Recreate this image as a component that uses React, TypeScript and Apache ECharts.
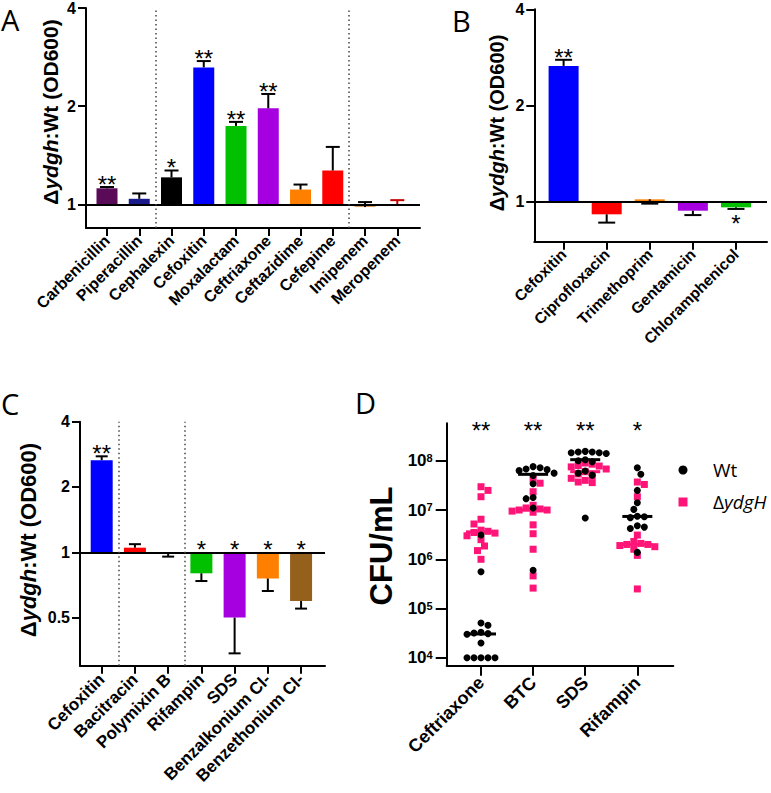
import React, { useEffect, useRef } from 'react';
import * as echarts from 'echarts';

// ---------- Panel A ----------
const catsA = ['Carbenicillin', 'Piperacillin', 'Cephalexin', 'Cefoxitin', 'Moxalactam', 'Ceftriaxone', 'Ceftazidime', 'Cefepime', 'Imipenem', 'Meropenem'];
const valsA = [1.12, 1.04, 1.21, 2.63, 1.74, 1.97, 1.11, 1.27, 0.981, 0.99];
const errA = [1.13, 1.08, 1.27, 2.75, 1.79, 2.18, 1.15, 1.5, 1.016, 1.03];
const sigA = ['**', '', '*', '**', '**', '**', '', '', '', ''];
const colorsA = ['#5a0b58', '#1a1a8c', '#000000', '#0000ff', '#00c000', '#a600e0', '#ff8000', '#ff0000', '#d9a062', '#ff0000'];
const errColorsA = ['#000', '#000', '#000', '#000', '#000', '#000', '#000', '#000', '#000', '#c00000'];

// ---------- Panel B ----------
const catsB = ['Cefoxitin', 'Ciprofloxacin', 'Trimethoprim', 'Gentamicin', 'Chloramphenicol'];
const valsB = [2.66, 0.913, 1.017, 0.937, 0.96];
const errB = [2.78, 0.86, 0.986, 0.908, 0.949];
const sigB = ['**', '', '', '', '*'];
const colorsB = ['#0000ff', '#ff0000', '#ff8000', '#a600e0', '#00c000'];
const errColorsB = ['#000', '#000', '#000', '#000', '#000'];

// ---------- Panel C ----------
const catsC = ['Cefoxitin', 'Bacitracin', 'Polymixin B', 'Rifampin', 'SDS', 'Benzalkonium Cl-', 'Benzethonium Cl-'];
const valsC = [2.66, 1.05, 0.985, 0.8, 0.5, 0.757, 0.596];
const errC = [2.77, 1.09, 0.955, 0.737, 0.342, 0.663, 0.55];
const sigC = ['**', '', '', '*', '*', '*', '*'];
const colorsC = ['#0000ff', '#ff0000', '#000000', '#00c000', '#a600e0', '#ff8000', '#94601c'];
const errColorsC = ['#000', '#000', '#000', '#000', '#000', '#000', '#000'];

// ---------- Panel D (CFU/mL) ----------
const catsD = ['Ceftriaxone', 'BTC', 'SDS', 'Rifampin'];
const sigD = ['**', '**', '**', '*'];
const wtCeftriaxone = [3.1e6, 5.6e5, 5.1e4, 4.6e4, 3.3e4, 3.2e4, 3.1e4, 3.0e4, 2.0e4, 1e4, 1e4, 1e4, 1e4, 1e4];
const wtBTC = [7.6e7, 7.2e7, 6.8e7, 6.6e7, 6.3e7, 5.6e7, 5.0e7, 3.4e7, 1.8e7, 1.7e7, 1.1e7, 6.0e5];
const wtSDS = [1.55e8, 1.5e8, 1.5e8, 1.45e8, 1.45e8, 1.4e8, 1.05e8, 1.0e8, 9.5e7, 6.2e7, 5.6e7, 5.1e7, 6.9e6];
const wtRifampin = [7.2e7, 5.3e7, 2.5e7, 1.4e7, 1.03e7, 7.5e6, 7.3e6, 7.0e6, 4.8e6, 4.5e6, 4.2e6, 1.38e6];
const koCeftriaxone = [2.97e7, 2.5e7, 1.86e7, 6.5e6, 5.2e6, 3.9e6, 3.7e6, 3.5e6, 3.4e6, 3.0e6, 2.5e6, 1.86e6, 1.5e6, 1.0e6];
const koBTC = [4.2e7, 3.5e7, 2.35e7, 1.25e7, 1.1e7, 1.05e7, 1.0e7, 1.0e7, 9.5e6, 9.0e6, 5.0e6, 3.3e6, 1.6e6, 4.6e5, 2.6e5];
const koSDS = [9.0e7, 8.5e7, 8.0e7, 7.8e7, 7.5e7, 6.8e7, 6.0e7, 5.4e7, 5.0e7, 4.4e7, 4.0e7, 3.7e7, 3.6e7];
const koRifampin = [3.7e7, 3.3e7, 1.86e7, 3.1e6, 2.3e6, 2.1e6, 2.0e6, 2.0e6, 1.9e6, 1.8e6, 1.6e6, 1.2e6, 2.5e5];
const wtD = [wtCeftriaxone, wtBTC, wtSDS, wtRifampin];
const koD = [koCeftriaxone, koBTC, koSDS, koRifampin];
const yTicksD = [4, 5, 6, 7, 8];

const FONT_B = "'Liberation Sans', Arial, Helvetica, sans-serif";
const FONT_L = "'Open Sans', 'Noto Sans', sans-serif";
const PINK = '#ff1478';

function median(a: number[]) {
  const s = [...a].sort((x, y) => x - y);
  const n = s.length;
  return n % 2 ? s[(n - 1) / 2] : (s[n / 2 - 1] + s[n / 2]) / 2;
}

function swarmOffsets(vals: number[], pxPerDec: number, step: number): number[] {
  const order = vals.map((_, i) => i).sort((a, b) => vals[b] - vals[a]);
  const placed: [number, number][] = [];
  const offs = new Array(vals.length).fill(0);
  let flip = 1;
  for (const i of order) {
    const y = Math.log10(vals[i]) * pxPerDec;
    let chosen = 0;
    for (let k = 0; k < 80; k++) {
      const m = Math.ceil(k / 2) * (step / 2);
      const cand = k === 0 ? 0 : k % 2 === 1 ? m * flip : -m * flip;
      if (placed.every(([px, py]) => Math.hypot(px - cand, py - y) >= step * 0.98)) {
        chosen = cand;
        break;
      }
    }
    if (chosen !== 0) flip = -flip;
    placed.push([chosen, y]);
    offs[i] = chosen;
  }
  return offs;
}

type BarPanel = {
  cats: string[]; vals: number[]; errs: number[]; sigs: string[]; colors: string[]; errColors: string[];
  grid: { left: number; top: number; width: number; height: number };
  xMin: number; xMax: number; yMin: number; yMax: number; yTicks: number[];
  barWidth: number; cap: number; seps: number[]; labelSize: number; labelMargin: number; negStarBelow: boolean;
};

const barPanels: BarPanel[] = [
  {
    cats: catsA, vals: valsA, errs: errA, sigs: sigA, colors: colorsA, errColors: errColorsA,
    grid: { left: 86, top: 5, width: 334, height: 223 },
    xMin: -0.651, xMax: 9.704, yMin: -0.241, yMax: 2, yTicks: [0, 1, 2],
    barWidth: 21, cap: 7, seps: [1.5, 7.5], labelSize: 16, labelMargin: 10, negStarBelow: false,
  },
  {
    cats: catsB, vals: valsB, errs: errB, sigs: sigB, colors: colorsB, errColors: errColorsB,
    grid: { left: 534.3, top: 9.3, width: 232.7, height: 232.4 },
    xMin: -0.68, xMax: 4.72, yMin: -0.416, yMax: 2, yTicks: [0, 1, 2],
    barWidth: 30, cap: 8.5, seps: [], labelSize: 15.5, labelMargin: 10, negStarBelow: true,
  },
  {
    cats: catsC, vals: valsC, errs: errC, sigs: sigC, colors: colorsC, errColors: errColorsC,
    grid: { left: 80, top: 421.7, width: 245, height: 244 },
    xMin: -0.653, xMax: 6.72, yMin: -1.737, yMax: 2, yTicks: [-1, 0, 1, 2],
    barWidth: 22, cap: 6, seps: [0.5, 2.5], labelSize: 17, labelMargin: 11, negStarBelow: false,
  },
];

const gridD = { left: 446.7, top: 423.3, width: 226.6, height: 242.4 };
const xMinD = -0.658, xMaxD = 3.69, yMinD = 3.84, yMaxD = 8.76;

const STAR_FS = 24;

function buildOption(): any {
  const grids: any[] = [];
  const xAxes: any[] = [];
  const yAxes: any[] = [];
  const series: any[] = [];
  const axisLine = { show: true, onZero: false, lineStyle: { color: '#000', width: 2 } };

  barPanels.forEach((p, gi) => {
    grids.push({ ...p.grid });
    const idx = p.cats.map((_, k) => k);
    xAxes.push({
      type: 'value', gridIndex: gi, min: p.xMin, max: p.xMax,
      axisLine, splitLine: { show: false },
      axisTick: { show: true, customValues: idx, length: 8, lineStyle: { color: '#000', width: 2 } },
      axisLabel: {
        show: true, customValues: idx, rotate: 45, margin: p.labelMargin,
        formatter: (v: number) => p.cats[Math.round(v)] ?? '',
        fontSize: p.labelSize, fontWeight: 'bold', fontFamily: FONT_B, color: '#000',
      },
    });
    yAxes.push({
      type: 'value', gridIndex: gi, min: p.yMin, max: p.yMax,
      axisLine, splitLine: { show: false },
      axisTick: { show: true, customValues: p.yTicks, length: 8, lineStyle: { color: '#000', width: 2 } },
      axisLabel: {
        show: true, customValues: p.yTicks, margin: 10,
        formatter: (v: number) => String(Math.round(Math.pow(2, v) * 100) / 100),
        fontSize: 16, fontWeight: 'bold', fontFamily: FONT_B, color: '#000',
      },
    });
    series.push({
      type: 'bar', xAxisIndex: gi, yAxisIndex: gi, barWidth: p.barWidth,
      data: p.vals.map((v, i) => ({ value: [i, Math.log2(v)], itemStyle: { color: p.colors[i] } })),
      markLine: {
        silent: true, symbol: 'none', label: { show: false },
        data: [
          { yAxis: 0, lineStyle: { color: '#000', width: 2, type: 'solid' } },
          ...p.seps.map((s) => ({ xAxis: s, lineStyle: { color: '#444', width: 1.5, type: [1.5, 3] } })),
        ],
      },
    });
    series.push({
      type: 'custom', xAxisIndex: gi, yAxisIndex: gi, z: 3,
      data: p.vals.map((v, i) => [i, Math.log2(v), Math.log2(p.errs[i])]),
      renderItem: (params: any, api: any) => {
        const x = api.value(0);
        const p0 = api.coord([x, api.value(1)]);
        const p1 = api.coord([x, api.value(2)]);
        const c = p.errColors[params.dataIndex];
        return {
          type: 'group',
          children: [
            { type: 'line', shape: { x1: p0[0], y1: p0[1], x2: p1[0], y2: p1[1] }, style: { stroke: c, lineWidth: 2 } },
            { type: 'line', shape: { x1: p1[0] - p.cap, y1: p1[1], x2: p1[0] + p.cap, y2: p1[1] }, style: { stroke: c, lineWidth: 2 } },
          ],
        };
      },
    });
    const stars: { x: number; y: number; below: boolean; text: string }[] = [];
    p.sigs.forEach((s, i) => {
      if (!s) return;
      const lv = Math.log2(p.vals[i]);
      const le = Math.log2(p.errs[i]);
      if (lv < 0 && p.negStarBelow) stars.push({ x: i, y: Math.min(lv, le), below: true, text: s });
      else stars.push({ x: i, y: Math.max(0, lv, le), below: false, text: s });
    });
    series.push({
      type: 'custom', xAxisIndex: gi, yAxisIndex: gi, z: 4,
      data: stars.map((s) => [s.x, s.y]),
      renderItem: (params: any, api: any) => {
        const st = stars[params.dataIndex];
        const pt = api.coord([api.value(0), api.value(1)]);
        const cy = st.below ? pt[1] + 9 : pt[1] - 8;
        return {
          type: 'text', x: pt[0], y: cy + 0.22 * STAR_FS,
          style: { text: st.text, fontSize: STAR_FS, fontFamily: FONT_B, fill: '#000', align: 'center', verticalAlign: 'middle' },
        };
      },
    });
  });

  // Panel D
  const gd = 3;
  grids.push({ ...gridD });
  const idxD = catsD.map((_, k) => k);
  xAxes.push({
    type: 'value', gridIndex: gd, min: xMinD, max: xMaxD, axisLine, splitLine: { show: false },
    axisTick: { show: true, customValues: idxD, length: 10, lineStyle: { color: '#000', width: 2 } },
    axisLabel: {
      show: true, customValues: idxD, rotate: 45, margin: 14,
      formatter: (v: number) => catsD[Math.round(v)] ?? '',
      fontSize: 18, fontWeight: 'bold', fontFamily: FONT_B, color: '#000',
    },
  });
  yAxes.push({
    type: 'value', gridIndex: gd, min: yMinD, max: yMaxD, axisLine, splitLine: { show: false },
    axisTick: { show: true, customValues: yTicksD, length: 11, lineStyle: { color: '#000', width: 2 } },
    axisLabel: {
      show: true, customValues: yTicksD, margin: 14,
      formatter: (v: number) => `{b|10}{s|${Math.round(v)}}`,
      rich: {
        b: { fontSize: 17, fontWeight: 'bold', fontFamily: FONT_B, color: '#000' },
        s: { fontSize: 11, fontWeight: 'bold', fontFamily: FONT_B, color: '#000', verticalAlign: 'top' },
      },
    },
  });
  const pxPerDec = gridD.height / (yMaxD - yMinD);
  const pxPerCat = gridD.width / (xMaxD - xMinD);
  const step = 7;
  const pts = (groups: number[][]) =>
    groups.flatMap((g, c) => {
      const offs = swarmOffsets(g, pxPerDec, step);
      return g.map((v, i) => [c + offs[i] / pxPerCat, Math.log10(v)]);
    });
  const medRender = (color: string) => (params: any, api: any) => {
    const pt = api.coord([api.value(0), api.value(1)]);
    return { type: 'line', shape: { x1: pt[0] - 15, y1: pt[1], x2: pt[0] + 15, y2: pt[1] }, style: { stroke: color, lineWidth: 3 } };
  };
  series.push({
    type: 'scatter', name: 'ΔydgH', xAxisIndex: gd, yAxisIndex: gd, symbol: 'rect', symbolSize: 7,
    itemStyle: { color: PINK, opacity: 1 }, data: pts(koD),
  });
  series.push({
    type: 'custom', xAxisIndex: gd, yAxisIndex: gd, data: koD.map((g, c) => [c, Math.log10(median(g))]),
    renderItem: medRender(PINK),
  });
  series.push({
    type: 'scatter', name: 'Wt', xAxisIndex: gd, yAxisIndex: gd, symbol: 'circle', symbolSize: 7,
    itemStyle: { color: '#000', opacity: 1 }, data: pts(wtD),
  });
  series.push({
    type: 'custom', xAxisIndex: gd, yAxisIndex: gd, data: wtD.map((g, c) => [c, Math.log10(median(g))]),
    renderItem: medRender('#000'),
  });
  series.push({
    type: 'custom', xAxisIndex: gd, yAxisIndex: gd, z: 4,
    data: sigD.map((_, c) => [c, 8.72]),
    renderItem: (params: any, api: any) => {
      const pt = api.coord([api.value(0), api.value(1)]);
      return {
        type: 'text', x: pt[0], y: pt[1] + 0.22 * STAR_FS,
        style: { text: sigD[params.dataIndex], fontSize: STAR_FS, fontFamily: FONT_B, fill: '#000', align: 'center', verticalAlign: 'middle' },
      };
    },
  });

  const title = (x: number, y: number, fs: number) => ({
    type: 'text', x, y, rotation: Math.PI / 2, silent: true,
    style: {
      text: 'Δ{i|ydgh}:Wt (OD600)', fontSize: fs, fontWeight: 'bold', fontFamily: FONT_B, fill: '#000',
      align: 'center', verticalAlign: 'middle',
      rich: { i: { fontStyle: 'italic', fontWeight: 'bold', fontSize: fs, fontFamily: FONT_B, fill: '#000' } },
    },
  });
  const letter = (t: string, x: number, y: number) => ({
    type: 'text', x, y, silent: true,
    style: { text: t, fontSize: 29, lineHeight: 29, fontFamily: FONT_L, fill: '#000', align: 'left', verticalAlign: 'middle' },
  });

  const graphic = [
    letter('A', 1, 19),
    letter('B', 452, 20),
    letter('C', 1, 403),
    letter('D', 355, 402),
    title(50, 112, 21),
    title(497, 123, 20),
    title(28, 540, 22),
    {
      type: 'text', x: 381, y: 546, rotation: Math.PI / 2, silent: true,
      style: { text: 'CFU/mL', fontSize: 31, fontWeight: 'bold', fontFamily: FONT_B, fill: '#000', align: 'center', verticalAlign: 'middle' },
    },
    { type: 'circle', shape: { cx: 683, cy: 470, r: 4.5 }, style: { fill: '#000' }, silent: true },
    { type: 'rect', shape: { x: 678.5, y: 497.5, width: 9, height: 9 }, style: { fill: PINK }, silent: true },
    {
      type: 'text', x: 713, y: 470, silent: true,
      style: { text: 'Wt', fontSize: 19, fontFamily: FONT_L, fill: '#000', align: 'left', verticalAlign: 'middle' },
    },
    {
      type: 'text', x: 713, y: 502, silent: true,
      style: {
        text: 'Δ{i|ydgH}', fontSize: 19, fontFamily: FONT_L, fill: '#000', align: 'left', verticalAlign: 'middle',
        rich: { i: { fontStyle: 'italic', fontSize: 19, fontFamily: FONT_L, fill: '#000' } },
      },
    },
  ];

  return {
    animation: false,
    backgroundColor: '#ffffff',
    grid: grids,
    xAxis: xAxes,
    yAxis: yAxes,
    series,
    graphic,
  };
}

export default function App() {
  const ref = useRef<HTMLDivElement>(null);
  useEffect(() => {
    if (!ref.current) return;
    const chart = echarts.init(ref.current, null, { renderer: 'svg' });
    chart.setOption(buildOption());
    return () => chart.dispose();
  }, []);
  return <div ref={ref} style={{ position: 'absolute', left: 0, top: 0, width: 771, height: 793 }} />;
}
